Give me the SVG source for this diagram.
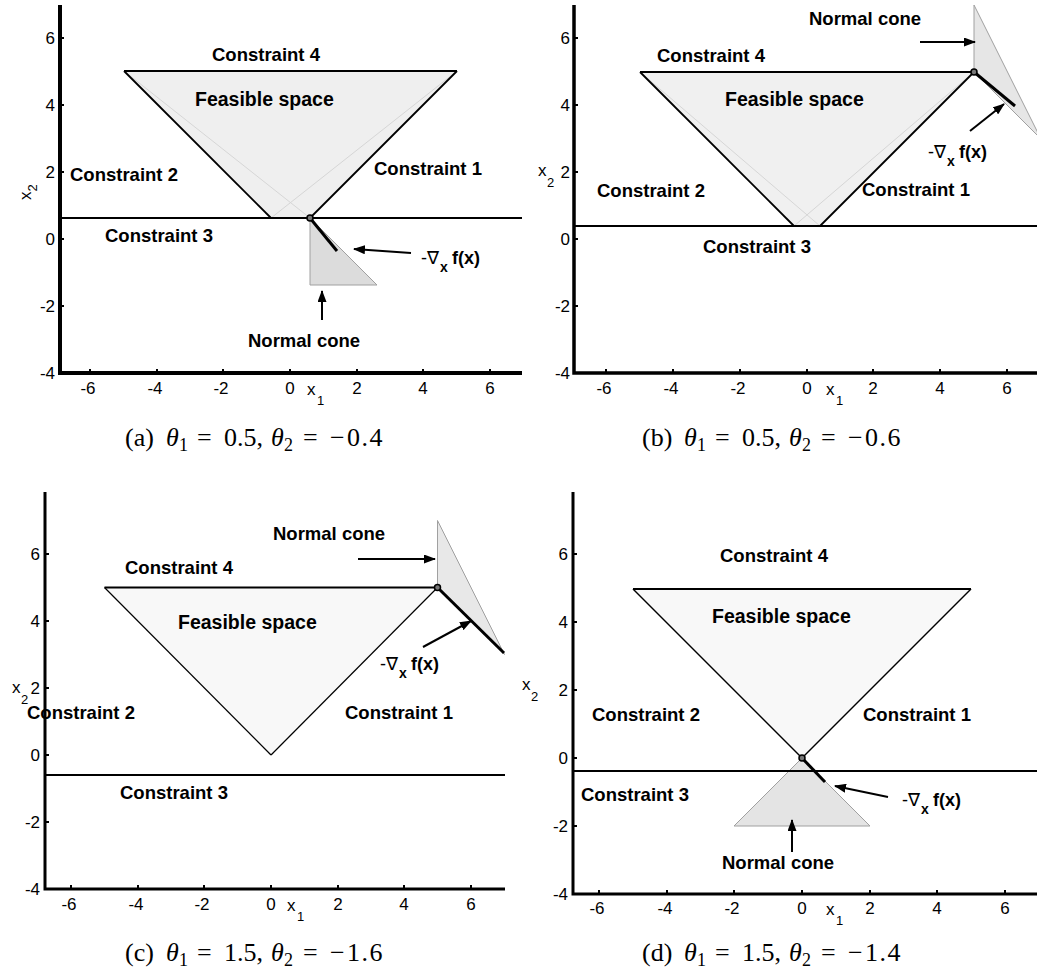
<svg xmlns="http://www.w3.org/2000/svg" width="1037" height="976" viewBox="0 0 1037 976">
<defs>
<marker id="ah" viewBox="0 0 12 9" refX="11" refY="4.5" markerWidth="12" markerHeight="9" markerUnits="userSpaceOnUse" orient="auto"><path d="M0,0 L12,4.5 L0,9 z" fill="#000"/></marker>
<style>
.ax{stroke:#000;stroke-width:3.5;fill:none}
.tk{stroke:#000;stroke-width:2}
.lbl{font-family:"Liberation Sans",Arial,sans-serif;font-weight:bold;font-size:18.5px;fill:#000}
.fs{font-family:"Liberation Sans",Arial,sans-serif;font-weight:bold;font-size:19.5px;fill:#000}
.num{font-family:"Liberation Sans",Arial,sans-serif;font-size:17px;fill:#000}
.grd{font-family:"Liberation Sans","DejaVu Sans",Arial,sans-serif;font-size:18px;fill:#000}
.cap{font-family:"Liberation Serif","Times New Roman",serif;font-size:26px;fill:#000}
.sb{font-size:18px}
.it{font-style:italic}
.c3{stroke:#000;stroke-width:2}
.edge{stroke:#000;stroke-width:1.8;fill:none}
.faint{stroke:#d6d6d6;stroke-width:1}
.cone{stroke:#a0a0a0;stroke-width:1}
.grad{stroke:#000;stroke-width:3}
.arr{stroke:#000;stroke-width:2;marker-end:url(#ah)}
.pt{fill:#777;stroke:#000;stroke-width:1.5}
</style>
</defs>

<!-- Panel (a) -->
<g id="panel-a">
  <g id="a-regions">
    <polygon points="124,71 457,71 310,218 271,218" fill="#efefef"/>
    <line class="faint" x1="124" y1="71" x2="310" y2="218"/>
    <line class="faint" x1="457" y1="71" x2="271" y2="218"/>
    <polygon class="cone" points="310,218 310,285 377,285" fill="#dcdcdc"/>
    <line class="edge" x1="124" y1="71" x2="457" y2="71" style="stroke-width:2.2"/>
    <line class="edge" x1="124" y1="71" x2="271" y2="218"/>
    <line class="edge" x1="457" y1="71" x2="310" y2="218"/>
    <line class="c3" x1="60" y1="218" x2="522" y2="218"/>
    <line class="grad" x1="310" y1="218" x2="337" y2="251"/>
    <circle class="pt" cx="310" cy="218" r="3"/>
  </g>
  <g id="a-axes">
    <path class="ax" d="M60,5 V373 H522" style="stroke-width:4"/>
    <path class="tk" d="M60,38h4M60,105h4M60,172h4M60,239h4M60,306h4M90,373v-4M157,373v-4M223,373v-4M290,373v-4M357,373v-4M423,373v-4M490,373v-4"/>
    <g class="num" text-anchor="end">
      <text x="55" y="44">6</text><text x="55" y="111">4</text><text x="55" y="178">2</text>
      <text x="55" y="245">0</text><text x="55" y="312">-2</text><text x="55" y="379">-4</text>
    </g>
    <g class="num" text-anchor="middle">
      <text x="88" y="394">-6</text><text x="155" y="394">-4</text><text x="221" y="394">-2</text>
      <text x="290" y="394">0</text><text x="357" y="394">2</text><text x="423" y="394">4</text><text x="490" y="394">6</text>
    </g>
    <text class="num" x="307" y="395">x<tspan x="317" y="405" font-size="13">1</tspan></text>
    <text class="num" transform="translate(31,200) rotate(-90)">x<tspan dy="6" font-size="13">2</tspan></text>
  </g>
  <g id="a-labels">
    <text class="lbl" x="212" y="61">Constraint 4</text>
    <text class="fs" x="195" y="106">Feasible space</text>
    <text class="lbl" x="70" y="181">Constraint 2</text>
    <text class="lbl" x="374" y="175">Constraint 1</text>
    <text class="lbl" x="105" y="242">Constraint 3</text>
    <text class="grd" x="421" y="264">-∇<tspan x="440" y="272" font-size="14" font-weight="bold">x</tspan><tspan x="452" y="264" font-weight="bold">f(x)</tspan></text>
    <text class="lbl" x="248" y="347">Normal cone</text>
  </g>
  <g id="a-connectors">
    <line class="arr" x1="411" y1="253" x2="354" y2="249"/>
    <line class="arr" x1="322" y1="320" x2="322" y2="291"/>
  </g>
  <text class="cap" y="446"><tspan x="125">(a)</tspan><tspan x="166" class="it">θ</tspan><tspan x="179" dy="5" class="sb">1</tspan><tspan x="197" dy="-5">=</tspan><tspan x="224">0.5,</tspan><tspan x="271" class="it">θ</tspan><tspan x="284" dy="5" class="sb">2</tspan><tspan x="303" dy="-5">=</tspan><tspan x="330">−</tspan><tspan x="347" letter-spacing="1.5">0.4</tspan></text>
</g>

<!-- Panel (b) -->
<g id="panel-b">
  <g id="b-regions">
    <polygon points="640,72 974,72 820,226 794,226" fill="#f0f0f0"/>
    <line class="faint" x1="640" y1="72" x2="820" y2="226"/>
    <line class="faint" x1="974" y1="72" x2="794" y2="226"/>
    <polygon class="cone" points="974,72 974,5 1041,139" fill="#e6e6e6"/>
    <line class="edge" x1="640" y1="72" x2="974" y2="72" style="stroke-width:2.2"/>
    <line class="edge" x1="640" y1="72" x2="794" y2="226"/>
    <line class="edge" x1="974" y1="72" x2="820" y2="226"/>
    <line class="c3" x1="574" y1="226" x2="1037" y2="226"/>
    <line class="grad" x1="974" y1="72" x2="1015" y2="106"/>
    <circle class="pt" cx="974" cy="72" r="3"/>
  </g>
  <g id="b-axes">
    <path class="ax" d="M574,5 V373 H1037"/>
    <path class="tk" d="M574,38h4M574,105h4M574,172h4M574,239h4M574,306h4M606,373v-4M673,373v-4M740,373v-4M807,373v-4M873,373v-4M940,373v-4M1007,373v-4"/>
    <g class="num" text-anchor="end">
      <text x="570" y="44">6</text><text x="570" y="111">4</text><text x="570" y="178">2</text>
      <text x="570" y="245">0</text><text x="570" y="312">-2</text><text x="570" y="379">-4</text>
    </g>
    <g class="num" text-anchor="middle">
      <text x="604" y="394">-6</text><text x="671" y="394">-4</text><text x="738" y="394">-2</text>
      <text x="807" y="394">0</text><text x="873" y="394">2</text><text x="940" y="394">4</text><text x="1007" y="394">6</text>
    </g>
    <text class="num" x="826" y="395">x<tspan x="836" y="405" font-size="13">1</tspan></text>
    <text class="num" x="538" y="176">x<tspan x="547" y="187" font-size="13">2</tspan></text>
  </g>
  <g id="b-labels">
    <text class="lbl" x="809" y="25">Normal cone</text>
    <text class="lbl" x="657" y="62">Constraint 4</text>
    <text class="fs" x="725" y="106">Feasible space</text>
    <text class="lbl" x="597" y="197">Constraint 2</text>
    <text class="lbl" x="862" y="196">Constraint 1</text>
    <text class="lbl" x="703" y="253">Constraint 3</text>
    <text class="grd" x="928" y="158">-∇<tspan x="947" y="166" font-size="14" font-weight="bold">x</tspan><tspan x="959" y="158" font-weight="bold">f(x)</tspan></text>
  </g>
  <g id="b-connectors">
    <line class="arr" x1="920" y1="42" x2="975" y2="42"/>
    <line class="arr" x1="970" y1="131" x2="1004" y2="104"/>
  </g>
  <text class="cap" y="446"><tspan x="642">(b)</tspan><tspan x="684" class="it">θ</tspan><tspan x="697" dy="5" class="sb">1</tspan><tspan x="715" dy="-5">=</tspan><tspan x="742">0.5,</tspan><tspan x="789" class="it">θ</tspan><tspan x="802" dy="5" class="sb">2</tspan><tspan x="821" dy="-5">=</tspan><tspan x="848">−</tspan><tspan x="865" letter-spacing="1.5">0.6</tspan></text>
</g>

<!-- Panel (c) -->
<g id="panel-c">
  <g id="c-regions">
    <polygon points="104.5,587.5 437.5,587.5 271,755" fill="#f8f8f8"/>
    <polygon class="cone" points="437.5,587.5 437.5,520.5 504.5,654.5" fill="#e8e8e8"/>
    <line class="edge" x1="104.5" y1="587.5" x2="437.5" y2="587.5" style="stroke-width:2.2"/>
    <line class="edge" x1="104.5" y1="587.5" x2="271" y2="755" style="stroke-width:1.2"/>
    <line class="edge" x1="437.5" y1="587.5" x2="271" y2="755" style="stroke-width:1.2"/>
    <line class="c3" x1="45" y1="775" x2="505" y2="775"/>
    <line class="grad" x1="437.5" y1="587.5" x2="504" y2="653"/>
    <circle class="pt" cx="437.5" cy="587.5" r="3"/>
  </g>
  <g id="c-axes">
    <path class="ax" d="M45,492 V889 H505" style="stroke-width:3"/>
    <path class="tk" d="M45,554h4M45,621h4M45,688h4M45,755h4M45,822h4M71,889v-4M138,889v-4M204,889v-4M271,889v-4M338,889v-4M404,889v-4M471,889v-4"/>
    <g class="num" text-anchor="end">
      <text x="40" y="560">6</text><text x="40" y="627">4</text><text x="40" y="694">2</text>
      <text x="40" y="761">0</text><text x="40" y="828">-2</text><text x="40" y="895">-4</text>
    </g>
    <g class="num" text-anchor="middle">
      <text x="69" y="910">-6</text><text x="136" y="910">-4</text><text x="202" y="910">-2</text>
      <text x="271" y="910">0</text><text x="338" y="910">2</text><text x="404" y="910">4</text><text x="471" y="910">6</text>
    </g>
    <text class="num" x="287" y="911">x<tspan x="297" y="921" font-size="13">1</tspan></text>
    <text class="num" x="12" y="693">x<tspan x="21" y="704" font-size="13">2</tspan></text>
  </g>
  <g id="c-labels">
    <text class="lbl" x="273" y="540">Normal cone</text>
    <text class="lbl" x="125" y="574">Constraint 4</text>
    <text class="fs" x="178" y="629">Feasible space</text>
    <text class="lbl" x="27" y="719">Constraint 2</text>
    <text class="lbl" x="345" y="719">Constraint 1</text>
    <text class="lbl" x="120" y="799">Constraint 3</text>
    <text class="grd" x="380" y="670">-∇<tspan x="399" y="678" font-size="14" font-weight="bold">x</tspan><tspan x="411" y="670" font-weight="bold">f(x)</tspan></text>
  </g>
  <g id="c-connectors">
    <line class="arr" x1="358" y1="559" x2="435" y2="559"/>
    <line class="arr" x1="423" y1="647" x2="471" y2="621"/>
  </g>
  <text class="cap" y="961"><tspan x="125">(c)</tspan><tspan x="166" class="it">θ</tspan><tspan x="179" dy="5" class="sb">1</tspan><tspan x="197" dy="-5">=</tspan><tspan x="224">1.5,</tspan><tspan x="271" class="it">θ</tspan><tspan x="284" dy="5" class="sb">2</tspan><tspan x="303" dy="-5">=</tspan><tspan x="330">−</tspan><tspan x="347" letter-spacing="1.5">1.6</tspan></text>
</g>

<!-- Panel (d) -->
<g id="panel-d">
  <g id="d-regions">
    <polygon points="633,589 971,589 802,758" fill="#f8f8f8"/>
    <polygon class="cone" points="802,758 734,826 870,826" fill="#e4e4e4"/>
    <line class="edge" x1="633" y1="589" x2="971" y2="589" style="stroke-width:2.2"/>
    <line class="edge" x1="633" y1="589" x2="802" y2="758" style="stroke-width:1.4"/>
    <line class="edge" x1="971" y1="589" x2="802" y2="758" style="stroke-width:1.4"/>
    <line class="c3" x1="573" y1="771" x2="1037" y2="771"/>
    <line class="grad" x1="802" y1="758" x2="825" y2="782"/>
    <circle class="pt" cx="802" cy="758" r="3"/>
  </g>
  <g id="d-axes">
    <path class="ax" d="M573,492 V894 H1037" style="stroke-width:3"/>
    <path class="tk" d="M573,554h4M573,622h4M573,690h4M573,758h4M573,826h4M599,894v-4M667,894v-4M734,894v-4M802,894v-4M870,894v-4M937,894v-4M1005,894v-4"/>
    <g class="num" text-anchor="end">
      <text x="568" y="560">6</text><text x="568" y="628">4</text><text x="568" y="696">2</text>
      <text x="568" y="764">0</text><text x="568" y="832">-2</text><text x="568" y="900">-4</text>
    </g>
    <g class="num" text-anchor="middle">
      <text x="597" y="914">-6</text><text x="665" y="914">-4</text><text x="732" y="914">-2</text>
      <text x="802" y="914">0</text><text x="870" y="914">2</text><text x="937" y="914">4</text><text x="1005" y="914">6</text>
    </g>
    <text class="num" x="826" y="915">x<tspan x="836" y="925" font-size="13">1</tspan></text>
    <text class="num" x="522" y="690">x<tspan x="531" y="701" font-size="13">2</tspan></text>
  </g>
  <g id="d-labels">
    <text class="lbl" x="720" y="562">Constraint 4</text>
    <text class="fs" x="712" y="623">Feasible space</text>
    <text class="lbl" x="592" y="721">Constraint 2</text>
    <text class="lbl" x="863" y="721">Constraint 1</text>
    <text class="lbl" x="581" y="801">Constraint 3</text>
    <text class="grd" x="902" y="806">-∇<tspan x="921" y="814" font-size="14" font-weight="bold">x</tspan><tspan x="933" y="806" font-weight="bold">f(x)</tspan></text>
    <text class="lbl" x="722" y="869">Normal cone</text>
  </g>
  <g id="d-connectors">
    <line class="arr" x1="888" y1="797" x2="835" y2="786"/>
    <line class="arr" x1="792" y1="852" x2="792" y2="820"/>
  </g>
  <text class="cap" y="961"><tspan x="642">(d)</tspan><tspan x="684" class="it">θ</tspan><tspan x="697" dy="5" class="sb">1</tspan><tspan x="715" dy="-5">=</tspan><tspan x="742">1.5,</tspan><tspan x="789" class="it">θ</tspan><tspan x="802" dy="5" class="sb">2</tspan><tspan x="821" dy="-5">=</tspan><tspan x="848">−</tspan><tspan x="865" letter-spacing="1.5">1.4</tspan></text>
</g>
</svg>
